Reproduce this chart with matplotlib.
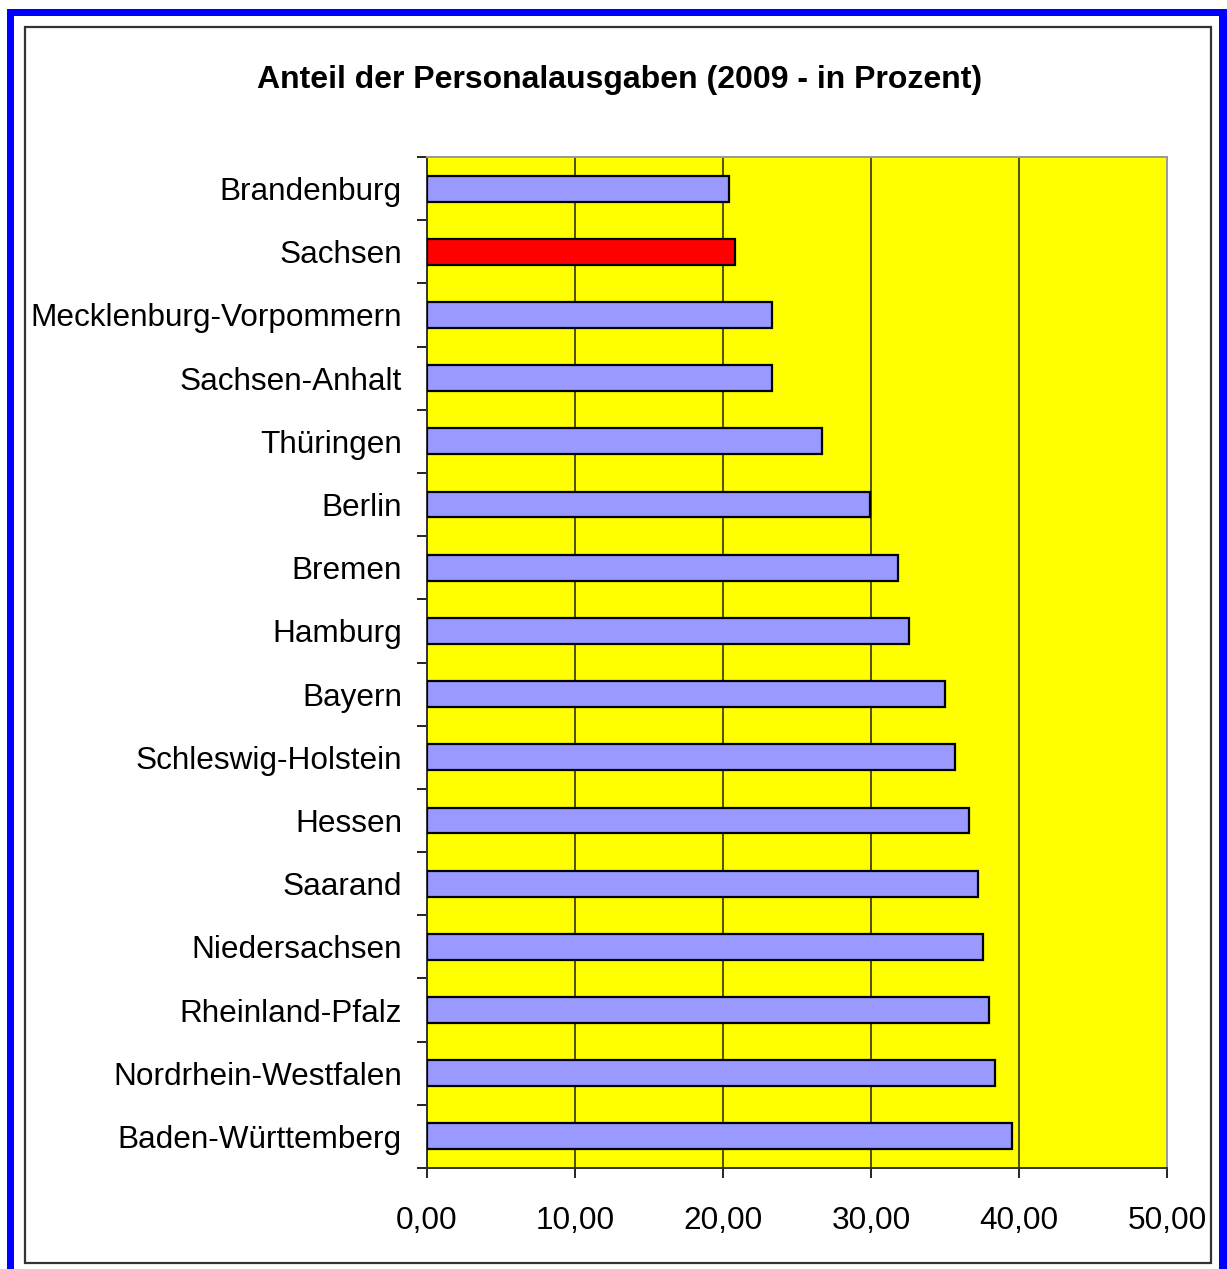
import matplotlib
matplotlib.use("Agg")
import numpy as np
from matplotlib import pyplot as plt
from matplotlib.patches import Rectangle
from matplotlib.ticker import FuncFormatter

matplotlib.rcParams["font.family"] = ["Liberation Sans", "DejaVu Sans"]

# data, top to bottom as shown
laender = [
    "Brandenburg",
    "Sachsen",
    "Mecklenburg-Vorpommern",
    "Sachsen-Anhalt",
    "Thüringen",
    "Berlin",
    "Bremen",
    "Hamburg",
    "Bayern",
    "Schleswig-Holstein",
    "Hessen",
    "Saarand",
    "Niedersachsen",
    "Rheinland-Pfalz",
    "Nordrhein-Westfalen",
    "Baden-Württemberg",
]
anteil = [20.4, 20.8, 23.3, 23.3, 26.7, 29.9, 31.8, 32.6, 35.0, 35.7, 36.6, 37.2, 37.6, 38.0, 38.4, 39.5]
highlight = "Sachsen"
x_ticks = [0, 10, 20, 30, 40, 50]

W, H = 1227, 1269
fig = plt.figure(figsize=(W / 100, H / 100), dpi=100)

# outer blue frame (left, top, right) and inner black frame
fig.patches.append(Rectangle((7 / W, 0), 7 / W, 1 - 9 / H, transform=fig.transFigure,
                             facecolor="#0000ff", edgecolor="none"))
fig.patches.append(Rectangle((7 / W, 1 - 16 / H), (W - 7) / W, 7 / H, transform=fig.transFigure,
                             facecolor="#0000ff", edgecolor="none"))
fig.patches.append(Rectangle((1219 / W, 0), 8 / W, 1 - 9 / H, transform=fig.transFigure,
                             facecolor="#0000ff", edgecolor="none"))
fig.patches.append(Rectangle((25 / W, 1 - 1263 / H), (1211 - 25) / W, (1263 - 27) / H,
                             transform=fig.transFigure, facecolor="none",
                             edgecolor="#333333", linewidth=1.6))

ax = fig.add_axes([427 / W, 1 - 1168 / H, (1167 - 427) / W, (1168 - 157) / H])
ax.set_facecolor("#ffff00")

y = np.arange(len(laender))
colors = ["#ff0000" if n == highlight else "#9999ff" for n in laender]
ax.barh(y, anteil, height=0.41, color=colors, edgecolor="black", linewidth=1.6, zorder=3)

ax.set_xlim(0, 50)
ax.set_ylim(len(laender) - 0.5, -0.5)
ax.set_xticks(x_ticks)
ax.xaxis.set_major_formatter(FuncFormatter(lambda v, p: f"{v:.2f}".replace(".", ",")))
ax.set_yticks(y)
ax.set_yticklabels(laender)
ax.set_yticks(np.arange(-0.5, len(laender)), minor=True)

ax.tick_params(axis="y", which="major", length=0, pad=18, labelsize=22.7)
ax.tick_params(axis="y", which="minor", length=7, width=1.2, direction="out")
ax.tick_params(axis="x", length=7, width=1.2, direction="out", pad=20.5, labelsize=22.7)

for v in x_ticks[1:-1]:
    ax.axvline(v, color="#333300", linewidth=1.2, zorder=1)

ax.spines["left"].set_color("#333333")
ax.spines["bottom"].set_color("#333333")
ax.spines["top"].set_color("#999999")
ax.spines["right"].set_color("#999999")
for s in ax.spines.values():
    s.set_linewidth(1.4)

fig.text(620 / W, 1 - 80 / H, "Anteil der Personalausgaben (2009 - in Prozent)",
         ha="center", va="center", fontsize=23, fontweight="bold")

fig.savefig("out.png", dpi=100)
